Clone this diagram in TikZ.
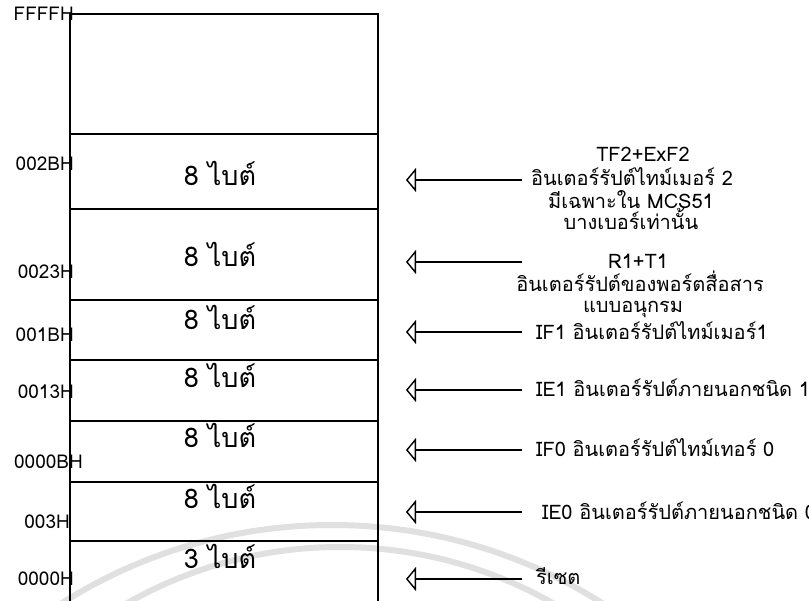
\documentclass[tikz,border=0pt]{standalone}
\usepackage{fontspec}
\setmainfont[Script=Thai]{Loma}
\usetikzlibrary{arrows.meta}
\begin{document}
\begin{tikzpicture}[x=1pt,y=-1pt,
  cellbox/.style={draw, line width=1.4pt, minimum width=308pt, inner sep=0pt},
  addr/.style={anchor=base east, inner sep=0pt, font=\fontsize{19}{22}\selectfont},
  bytes/.style={anchor=base, inner sep=0pt, font=\fontsize{27}{32}\selectfont},
  desc/.style={anchor=base, inner sep=0pt, font=\fontsize{20}{24}\selectfont},
  descl/.style={anchor=base west, inner sep=0pt, font=\fontsize{20}{24}\selectfont},
  vec/.style={line width=1.4pt, -{Triangle[open, length=10pt, width=24pt, line width=1.4pt]}},
  wmark/.style={draw=black!12, line width=6pt}
]
\useasboundingbox (0,0) rectangle (809,601);

% faint watermark bands behind the memory map
\begin{scope}
  \clip (0,0) rectangle (809,601);
  \draw[wmark] (332,1030.7) circle[radius=505.7pt];
  \draw[wmark] (340,977.7) circle[radius=430.7pt];
\end{scope}

% memory cells, top (FFFFH) down to the reset vector
\node[cellbox, minimum height=120pt] (ctop) at (224,74) {};
\node[cellbox, minimum height=75pt]  (c2b) at (224,171.5) {};
\node[cellbox, minimum height=91pt]  (c23) at (224,254.5) {};
\node[cellbox, minimum height=60pt]  (c1b) at (224,330) {};
\node[cellbox, minimum height=61pt]  (c13) at (224,390.5) {};
\node[cellbox, minimum height=61pt]  (c0b) at (224,451.5) {};
\node[cellbox, minimum height=59pt]  (c03) at (224,511.5) {};
\node[cellbox, minimum height=90pt]  (c00) at (224,586) {};

% cell sizes
\node[bytes] (s2b) at (220,186) {8 ไบต์};
\node[bytes] (s23) at (220,267) {8 ไบต์};
\node[bytes] (s1b) at (220,330) {8 ไบต์};
\node[bytes] (s13) at (220,388) {8 ไบต์};
\node[bytes] (s0b) at (220,448) {8 ไบต์};
\node[bytes] (s03) at (220,508) {8 ไบต์};
\node[bytes] (s00) at (220,568) {3 ไบต์};

% addresses
\node[addr] (aff) at (74,21)  {FFFFH};
\node[addr] (a2b) at (74,171) {002BH};
\node[addr] (a23) at (74,279) {0023H};
\node[addr] (a1b) at (74,342) {001BH};
\node[addr] (a13) at (74,399) {0013H};
\node[addr] (a0b) at (83,469) {0000BH};
\node[addr] (a03) at (70,529) {003H};
\node[addr] (a00) at (74,585) {0000H};

% interrupt sources
\node[desc] (d2b1) at (643,162) {TF2+ExF2};
\node[desc] (d2b2) at (632,186) {อินเตอร์รัปต์ไทม์เมอร์ 2};
\node[desc] (d2b3) at (631,209) {มีเฉพาะใน MCS51};
\node[desc] (d2b4) at (631,230) {บางเบอร์เท่านั้น};
\node[desc] (d231) at (638,269) {R1+T1};
\node[desc] (d232) at (640,292) {อินเตอร์รัปต์ของพอร์ตสื่อสาร};
\node[desc] (d233) at (633,313) {แบบอนุกรม};
\node[descl] (d1b) at (536,340) {IF1 อินเตอร์รัปต์ไทม์เมอร์1};
\node[descl] (d13) at (536,397) {IE1 อินเตอร์รัปต์ภายนอกชนิด 1};
\node[descl] (d0b) at (536,457) {IF0 อินเตอร์รัปต์ไทม์เทอร์ 0};
\node[descl] (d03) at (542,519) {IE0 อินเตอร์รัปต์ภายนอกชนิด 0};
\node[descl] (d00) at (536,584) {รีเซต};

% arrows pointing back at the vector table
\foreach \n/\y in {2b/180, 23/262, 1b/332, 13/390, 0b/450, 03/512, 00/579}{
  \coordinate (p\n) at (522,\y);
  \coordinate (q\n) at (406,\y);
  \draw[vec] (p\n) -- (q\n);
}
\end{tikzpicture}
\end{document}
